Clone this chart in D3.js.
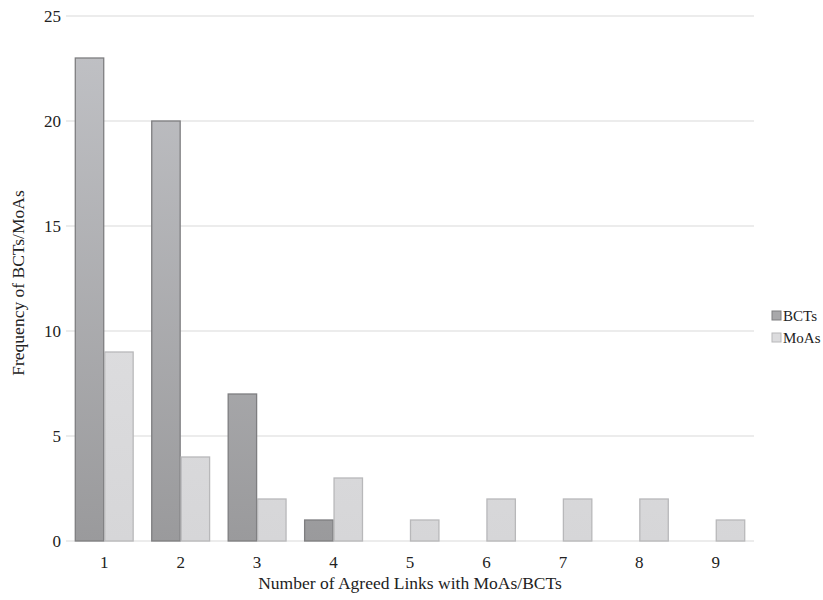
<!DOCTYPE html>
<html>
<head>
<meta charset="utf-8">
<script src="https://cdn.jsdelivr.net/npm/d3@7"></script>
<style>
  body { margin: 0; background: #fff; }
  text { font-family: "Liberation Serif", "Times New Roman", serif; fill: #222; }
</style>
</head>
<body>
<div id="chart"></div>
<script>
// Chart data
const categories = ["1", "2", "3", "4", "5", "6", "7", "8", "9"];
const seriesNames = ["BCTs", "MoAs"];
const bctValues = [23, 20, 7, 1, 0, 0, 0, 0, 0];
const moaValues = [9, 4, 2, 3, 1, 2, 2, 2, 1];
const yTicks = [0, 5, 10, 15, 20, 25];

const width = 823, height = 600;
const margin = { left: 66, right: 69, top: 16, bottom: 59 };

const svg = d3.select('#chart')
    .append('svg')
    .attr('width', width)
    .attr('height', height);

// Gradients for the two series
const defs = svg.append('defs');
function addGradient(id, top, bottom) {
    const g = defs.append('linearGradient')
        .attr('id', id)
        .attr('gradientUnits', 'userSpaceOnUse')
        .attr('x1', 0).attr('x2', 0)
        .attr('y1', margin.top).attr('y2', height - margin.bottom);
    g.append('stop').attr('offset', '0%').attr('stop-color', top);
    g.append('stop').attr('offset', '100%').attr('stop-color', bottom);
}
addGradient('gradBCT', '#c2c3c7', '#9a9a9c');
addGradient('gradMoA', '#e6e6e8', '#d6d6d8');

const x0 = d3.scaleBand()
    .domain(categories)
    .range([margin.left, width - margin.right])
    .paddingInner(0.23)
    .paddingOuter(0.115);

const x1 = d3.scaleBand()
    .domain(seriesNames)
    .range([0, x0.bandwidth()]);

const y = d3.scaleLinear()
    .domain([0, 25])
    .range([height - margin.bottom, margin.top]);

// Gridlines
svg.append('g')
    .selectAll('line')
    .data(yTicks)
    .enter()
    .append('line')
    .attr('x1', margin.left)
    .attr('x2', width - margin.right)
    .attr('y1', d => y(d))
    .attr('y2', d => y(d))
    .attr('stroke', '#d9d9d9')
    .attr('stroke-width', 1);

// Y tick labels
svg.append('g')
    .selectAll('text')
    .data(yTicks)
    .enter()
    .append('text')
    .attr('x', margin.left - 5)
    .attr('y', d => y(d))
    .attr('dy', '0.35em')
    .attr('text-anchor', 'end')
    .style('font-size', '17px')
    .text(d => d);

// Bars
const rows = categories.map((c, i) => ({ cat: c, values: [bctValues[i], moaValues[i]] }));
const styles = {
    BCTs: { fill: 'url(#gradBCT)', stroke: '#7e7e80' },
    MoAs: { fill: 'url(#gradMoA)', stroke: '#b8b8ba' }
};

const groups = svg.append('g')
    .selectAll('g')
    .data(rows)
    .enter()
    .append('g')
    .attr('transform', d => `translate(${x0(d.cat)},0)`);

groups.selectAll('rect')
    .data(d => d.values.map((v, j) => ({ key: seriesNames[j], value: v })).filter(d => d.value > 0))
    .enter()
    .append('rect')
    .attr('x', d => x1(d.key) + 0.5)
    .attr('y', d => y(d.value))
    .attr('width', x1.bandwidth() - 1)
    .attr('height', d => y(0) - y(d.value))
    .attr('fill', d => styles[d.key].fill)
    .attr('stroke', d => styles[d.key].stroke)
    .attr('stroke-width', 1.3);

// X tick labels
svg.append('g')
    .selectAll('text')
    .data(categories)
    .enter()
    .append('text')
    .attr('x', d => x0(d) + x0.bandwidth() / 2)
    .attr('y', y(0) + 27)
    .attr('text-anchor', 'middle')
    .style('font-size', '17px')
    .text(d => d);

// Axis titles
svg.append('text')
    .attr('x', (margin.left + width - margin.right) / 2)
    .attr('y', 589)
    .attr('text-anchor', 'middle')
    .style('font-size', '17.5px')
    .text('Number of Agreed Links with MoAs/BCTs');

svg.append('text')
    .attr('transform', `translate(24,283) rotate(-90)`)
    .attr('text-anchor', 'middle')
    .style('font-size', '17.5px')
    .text('Frequency of BCTs/MoAs');

// Legend
const legend = svg.append('g')
    .selectAll('g')
    .data(seriesNames)
    .enter()
    .append('g')
    .attr('transform', (d, i) => `translate(772,${316 + i * 22})`);

legend.append('rect')
    .attr('x', 0)
    .attr('y', -5)
    .attr('width', 9)
    .attr('height', 9)
    .attr('fill', d => d === 'BCTs' ? '#a8a8aa' : '#dcdcde')
    .attr('stroke', d => styles[d].stroke)
    .attr('stroke-width', 1);

legend.append('text')
    .attr('x', 11)
    .attr('y', 0)
    .attr('dy', '0.35em')
    .style('font-size', '15px')
    .text(d => d);
</script>
</body>
</html>
